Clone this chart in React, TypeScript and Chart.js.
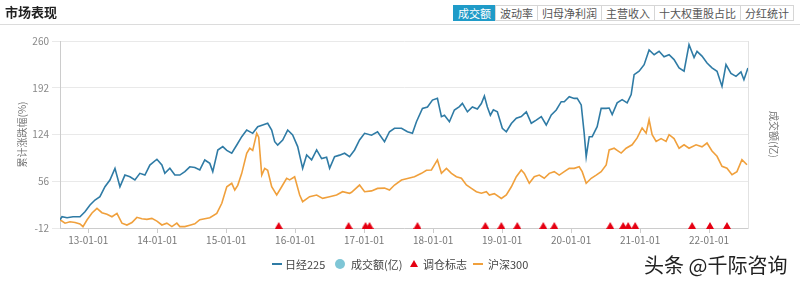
import React, { useEffect, useRef } from "react";
import { Chart, registerables } from "chart.js";

Chart.register(...registerables);

const FONT = '"Noto Sans CJK SC", "Microsoft YaHei", sans-serif';

const yearTicks = [2013, 2014, 2015, 2016, 2017, 2018, 2019, 2020, 2021, 2022];
const yTicks = [-12, 56, 124, 192, 260];
const xMin = 2012.59;
const xMax = 2022.565;

const tabs = ["成交额", "波动率", "归母净利润", "主营收入", "十大权重股占比", "分红统计"];

// 日经225 (cumulative %, dates as decimal years)
const nikkeiDates = [
  2012.590, 2012.619, 2012.692, 2012.779, 2012.880, 2012.952, 2013.025, 2013.097, 2013.169, 2013.242,
  2013.314, 2013.387, 2013.459, 2013.531, 2013.604, 2013.676, 2013.748, 2013.821, 2013.893, 2013.995,
  2014.067, 2014.110, 2014.183, 2014.255, 2014.327, 2014.400, 2014.472, 2014.545, 2014.617, 2014.689,
  2014.762, 2014.805, 2014.878, 2014.950, 2015.008, 2015.080, 2015.153, 2015.225, 2015.297, 2015.384,
  2015.457, 2015.529, 2015.601, 2015.659, 2015.703, 2015.746, 2015.819, 2015.891, 2015.963, 2016.036,
  2016.108, 2016.166, 2016.238, 2016.311, 2016.383, 2016.455, 2016.499, 2016.571, 2016.644, 2016.716,
  2016.788, 2016.861, 2016.933, 2017.006, 2017.107, 2017.194, 2017.295, 2017.367, 2017.440, 2017.541,
  2017.628, 2017.700, 2017.758, 2017.845, 2017.918, 2017.990, 2018.062, 2018.120, 2018.164, 2018.236,
  2018.308, 2018.381, 2018.424, 2018.497, 2018.569, 2018.641, 2018.699, 2018.743, 2018.786, 2018.830,
  2018.873, 2018.931, 2019.003, 2019.061, 2019.134, 2019.206, 2019.278, 2019.351, 2019.423, 2019.495,
  2019.568, 2019.640, 2019.713, 2019.785, 2019.857, 2019.901, 2019.973, 2020.045, 2020.089, 2020.147,
  2020.190, 2020.219, 2020.263, 2020.306, 2020.378, 2020.436, 2020.509, 2020.552, 2020.596, 2020.668,
  2020.740, 2020.813, 2020.871, 2020.914, 2020.986, 2021.059, 2021.131, 2021.204, 2021.276, 2021.348,
  2021.421, 2021.493, 2021.566, 2021.638, 2021.710, 2021.783, 2021.826, 2021.898, 2021.971, 2022.043,
  2022.116, 2022.188, 2022.246, 2022.318, 2022.391, 2022.463, 2022.506, 2022.564,
];
const nikkeiValues = [
  0, 4.4, 3, 4.4, 4.4, 11.7, 21.5, 28.7, 33.5, 48,
  57.8, 74.8, 48, 65, 62.6, 57.8, 67.5, 65, 79.6, 88,
  79.6, 67.5, 75, 65, 65, 70, 77, 76, 72.4, 86.9,
  82, 70, 101.5, 106.4, 101, 96.7, 108.7, 120.8, 130.5, 125.7,
  135.4, 137.8, 140.3, 130.5, 113.5, 108.7, 116, 130.5, 123.3, 106.4,
  74.8, 94.2, 87, 101.5, 89, 91, 74.8, 91.7, 94, 96.7,
  91.7, 101.5, 116, 125.7, 123, 128, 113.5, 128, 133, 133,
  128, 125.7, 142.6, 162, 164, 174, 176.7, 150, 152, 142.6,
  159.6, 164.5, 169.3, 157, 164, 161, 169, 180, 164, 152,
  160, 157, 133, 128, 140, 147.6, 150, 157, 140.3, 145,
  150, 137.8, 152.4, 159.6, 171.7, 171.7, 179, 176.5, 176.5, 167,
  125.7, 91.7, 120.8, 120.8, 135.4, 162, 162, 162.5, 153, 170,
  174.7, 170, 182, 211, 216, 225.6, 247, 240, 245, 237,
  240, 233, 220.7, 216, 254.6, 236, 245, 238, 228, 221,
  216, 194, 225.6, 213, 208.6, 215, 203.7, 220.7,
];

// 沪深300 (cumulative %, dates as decimal years)
const csiDates = [
  2012.590, 2012.663, 2012.735, 2012.808, 2012.880, 2012.923, 2012.981, 2013.054, 2013.126, 2013.198,
  2013.271, 2013.343, 2013.416, 2013.488, 2013.560, 2013.633, 2013.705, 2013.777, 2013.850, 2013.922,
  2013.995, 2014.067, 2014.139, 2014.212, 2014.284, 2014.327, 2014.400, 2014.472, 2014.545, 2014.617,
  2014.689, 2014.762, 2014.863, 2014.936, 2015.008, 2015.080, 2015.124, 2015.167, 2015.225, 2015.297,
  2015.341, 2015.384, 2015.442, 2015.471, 2015.515, 2015.558, 2015.601, 2015.659, 2015.732, 2015.804,
  2015.876, 2015.920, 2015.992, 2016.065, 2016.108, 2016.209, 2016.311, 2016.398, 2016.499, 2016.600,
  2016.687, 2016.788, 2016.817, 2016.933, 2017.006, 2017.107, 2017.194, 2017.295, 2017.367, 2017.440,
  2017.541, 2017.628, 2017.729, 2017.831, 2017.903, 2017.975, 2018.062, 2018.120, 2018.193, 2018.265,
  2018.337, 2018.410, 2018.482, 2018.555, 2018.627, 2018.699, 2018.772, 2018.815, 2018.887, 2018.989,
  2019.061, 2019.134, 2019.206, 2019.278, 2019.322, 2019.394, 2019.466, 2019.539, 2019.611, 2019.684,
  2019.756, 2019.828, 2019.901, 2019.973, 2020.045, 2020.118, 2020.161, 2020.219, 2020.292, 2020.364,
  2020.436, 2020.509, 2020.552, 2020.625, 2020.668, 2020.726, 2020.798, 2020.885, 2020.958, 2021.030,
  2021.088, 2021.131, 2021.175, 2021.233, 2021.305, 2021.377, 2021.421, 2021.493, 2021.566, 2021.638,
  2021.710, 2021.812, 2021.898, 2021.971, 2022.043, 2022.116, 2022.188, 2022.260, 2022.333, 2022.405,
  2022.477, 2022.550,
];
const csiValues = [
  0, -5, -3, -4, -6, -10, -0.4, 9.8, 16.6, 10.3,
  8, 4.4, 9.3, -5, -7.7, -4, 3.5, 1.5, 0.6, 2,
  -2, -7.6, -5, -10, -5, -10, -10, -8, -6, 0,
  1.5, 3, 9.3, 24, 48, 53, 43.3, 50, 67.5, 96.7,
  104, 101, 125.7, 120, 65, 74.8, 72, 48, 36, 48,
  60.3, 58, 62.6, 36, 26.3, 33.5, 36, 31.1, 33.5, 36,
  40.8, 38.5, 40, 50.5, 40.8, 42, 45.6, 46, 43.3, 50.5,
  57.8, 60, 62.6, 67.5, 72, 72.4, 87, 67.5, 74.8, 67.5,
  62.6, 60.3, 50.5, 45.6, 40.8, 38.5, 40.8, 36, 38, 31,
  36, 48, 62.6, 72.4, 67.5, 53, 62.6, 65, 60.3, 67.5,
  70, 65, 70, 74.8, 74.8, 77, 70, 53, 60.3, 65,
  70, 79.6, 101.5, 104, 101, 97, 104, 109, 119, 133.5,
  126, 145.5, 123.7, 114, 118, 114, 123.7, 118, 104, 109,
  104, 109, 106, 111.6, 100, 92.3, 77.8, 75, 65.6, 70,
  87.4, 80,
];

// 调仓标志 (rebalance dates, decimal years)
const rebalanceDates = [
  2015.761, 2016.774, 2017.020, 2017.078, 2017.773, 2018.757, 2018.989, 2019.220, 2019.597,
  2019.756, 2020.567, 2020.755, 2020.827, 2020.929, 2021.754, 2022.014, 2022.260,
];

const BLUE = "#2f7ba5";
const ORANGE = "#f0a03c";
const TEAL = "#7fc6d6";
const RED = "#e50012";

function ChartCanvas() {
  const ref = useRef<HTMLCanvasElement | null>(null);
  useEffect(() => {
    const canvas = ref.current;
    if (!canvas) return;
    const tri = document.createElement("canvas");
    tri.width = 8;
    tri.height = 12;
    const tctx = tri.getContext("2d");
    if (tctx) {
      tctx.fillStyle = RED;
      tctx.beginPath();
      tctx.moveTo(4, 0);
      tctx.lineTo(8, 7);
      tctx.lineTo(0, 7);
      tctx.closePath();
      tctx.fill();
    }
    const chart = new Chart(canvas, {
      type: "line",
      data: {
        datasets: [
          {
            label: "日经225",
            data: nikkeiDates.map((d, i) => ({ x: d, y: nikkeiValues[i] })),
            borderColor: BLUE,
            backgroundColor: BLUE,
            borderWidth: 1.6,
            pointRadius: 0,
            tension: 0,
            yAxisID: "y",
          },
          {
            label: "沪深300",
            data: csiDates.map((d, i) => ({ x: d, y: csiValues[i] })),
            borderColor: ORANGE,
            backgroundColor: ORANGE,
            borderWidth: 1.6,
            pointRadius: 0,
            tension: 0,
            yAxisID: "y",
          },
          {
            label: "调仓标志",
            data: rebalanceDates.map((d) => ({ x: d, y: yTicks[0] })),
            showLine: false,
            pointStyle: tri as any,
            pointRadius: 5,
            pointHoverRadius: 5,
            borderColor: RED,
            backgroundColor: RED,
            clip: false as any,
            yAxisID: "y",
          },
        ],
      },
      options: {
        animation: false,
        responsive: false,
        maintainAspectRatio: false,
        layout: { padding: { top: 41, left: 12, right: 16, bottom: 0 } },
        plugins: { legend: { display: false }, tooltip: { enabled: false } },
        scales: {
          x: {
            type: "linear",
            min: xMin,
            max: xMax,
            afterBuildTicks: (s: any) => {
              s.ticks = yearTicks.map((v) => ({ value: v }));
            },
            ticks: {
              callback: (v: any) => `${String(v).slice(2)}-01-01`,
              color: "#777",
              font: { size: 10, family: FONT },
              padding: 1,
              maxRotation: 0,
              autoSkip: false,
            },
            grid: { drawOnChartArea: false, tickLength: 5, color: "#ccc" },
            border: { color: "#ccc" },
            afterFit: (s: any) => {
              s.height = 54;
            },
          },
          y: {
            position: "left",
            min: yTicks[0],
            max: yTicks[yTicks.length - 1],
            afterBuildTicks: (s: any) => {
              s.ticks = yTicks.map((v) => ({ value: v }));
            },
            ticks: {
              color: "#888",
              font: { size: 10, family: FONT },
              padding: 3,
            },
            grid: { color: "#e9e9e9", tickLength: 8 },
            border: { color: "#ccc" },
            title: {
              display: true,
              text: "累计涨跌幅(%)",
              color: "#777",
              font: { size: 10, family: FONT },
              padding: { top: 4, bottom: 0 },
            },
            afterFit: (s: any) => {
              s.width = 48;
            },
          },
          y1: {
            position: "right",
            min: 0,
            max: 1,
            ticks: { display: false },
            grid: { display: false, drawOnChartArea: false },
            border: { display: true, color: "#e2e2e2" },
            title: {
              display: true,
              text: "成交额(亿)",
              color: "#777",
              font: { size: 10, family: FONT },
              padding: { top: 4, bottom: 0 },
            },
            afterFit: (s: any) => {
              s.width = 36;
            },
          },
        },
      },
    });
    return () => chart.destroy();
  }, []);
  return (
    <canvas
      ref={ref}
      width={800}
      height={282}
      style={{ position: "absolute", left: 0, top: 0, width: 800, height: 282 }}
    />
  );
}

export default function App() {
  const legendText: React.CSSProperties = {
    position: "absolute",
    top: 256,
    fontSize: 11,
    lineHeight: "16px",
    color: "#444",
    whiteSpace: "nowrap",
  };
  return (
    <div
      style={{
        position: "relative",
        width: 800,
        height: 282,
        background: "#fff",
        fontFamily: FONT,
        overflow: "hidden",
      }}
    >
      <style>{`body{margin:0;}`}</style>
      <ChartCanvas />
      <div
        style={{
          position: "absolute",
          left: 5,
          top: 3,
          fontSize: 13,
          fontWeight: 700,
          color: "#222",
          lineHeight: "18px",
        }}
      >
        市场表现
      </div>
      <div
        style={{
          position: "absolute",
          left: 0,
          top: 24,
          width: 800,
          height: 1,
          background: "#dcdcdc",
        }}
      />
      <div
        style={{
          position: "absolute",
          left: 453,
          top: 5,
          display: "flex",
          height: 16,
        }}
      >
        {tabs.map((t, i) => (
          <div
            key={t}
            style={{
              fontSize: 11,
              lineHeight: "14px",
              padding: "0 4px",
              border: `1px solid ${i === 0 ? "#1f9bc8" : "#d6d6d6"}`,
              marginLeft: i === 0 ? 0 : -1,
              background: i === 0 ? "#1f9bc8" : "#fff",
              color: i === 0 ? "#fff" : "#555",
              whiteSpace: "nowrap",
            }}
          >
            {t}
          </div>
        ))}
      </div>
      <div
        style={{ position: "absolute", left: 272, top: 263, width: 10, height: 2, background: BLUE }}
      />
      <div style={{ ...legendText, left: 285 }}>日经225</div>
      <div
        style={{
          position: "absolute",
          left: 335,
          top: 259,
          width: 10,
          height: 10,
          borderRadius: 5,
          background: TEAL,
        }}
      />
      <div style={{ ...legendText, left: 351 }}>成交额(亿)</div>
      <div
        style={{
          position: "absolute",
          left: 410,
          top: 260,
          width: 0,
          height: 0,
          borderLeft: "4px solid transparent",
          borderRight: "4px solid transparent",
          borderBottom: `7px solid ${RED}`,
        }}
      />
      <div style={{ ...legendText, left: 423 }}>调仓标志</div>
      <div
        style={{ position: "absolute", left: 473, top: 263, width: 10, height: 2, background: ORANGE }}
      />
      <div style={{ ...legendText, left: 488 }}>沪深300</div>
      <div
        style={{
          position: "absolute",
          left: 644,
          top: 251,
          fontSize: 20,
          lineHeight: "28px",
          color: "#222",
          whiteSpace: "nowrap",
        }}
      >
        头条 @千际咨询
      </div>
    </div>
  );
}
